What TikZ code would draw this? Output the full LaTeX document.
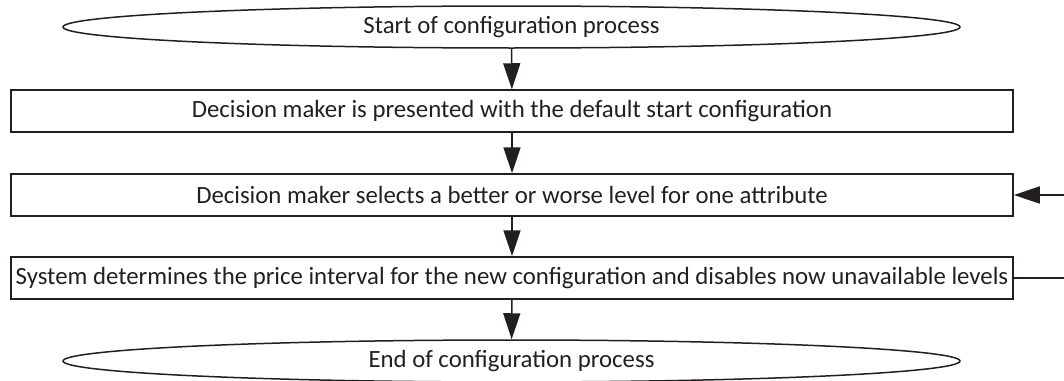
\documentclass[tikz,border=0pt]{standalone}
\usepackage{fontspec}
\setmainfont{Carlito}
\usetikzlibrary{arrows.meta,shapes.geometric}
\definecolor{ink}{HTML}{231F20}
\begin{document}
\begin{tikzpicture}[x=1pt,y=-1pt,
  every node/.style={font=\fontsize{24.8}{28}\selectfont, text=ink},
  terminal/.style={draw=ink, line width=1.5pt, ellipse, minimum width=897pt, minimum height=42pt, inner sep=0pt},
  stepbox/.style={draw=ink, line width=1.5pt, rectangle, minimum width=1002pt, minimum height=42pt, inner sep=0pt},
  flow/.style={draw=ink, line width=1.5pt, -{Triangle[length=26pt,width=17pt]}}]
\useasboundingbox (0,0) rectangle (1064,380);
\node[terminal] (start) at (511.5,27) {Start of configuration process};
\node[stepbox] (b1) at (512,111) {Decision maker is presented with the default start configuration};
\node[stepbox] (b2) at (512,195) {Decision maker selects a better or worse level for one attribute};
\node[stepbox] (b3) at (512,278) {System determines the price interval for the new configuration and disables now unavailable levels};
\node[terminal] (end) at (511.5,361) {End of configuration process};
\coordinate (r2) at (1064,195);
\coordinate (r3) at (1064,278);
\draw[flow] (start) -- (b1);
\draw[flow] (b1) -- (b2);
\draw[flow] (b2) -- (b3);
\draw[flow] (b3) -- (end);
\draw[ink, line width=1.5pt] (b3.east) -- (r3);
\draw[flow] (r2) -- (b2.east);
\end{tikzpicture}
\end{document}
